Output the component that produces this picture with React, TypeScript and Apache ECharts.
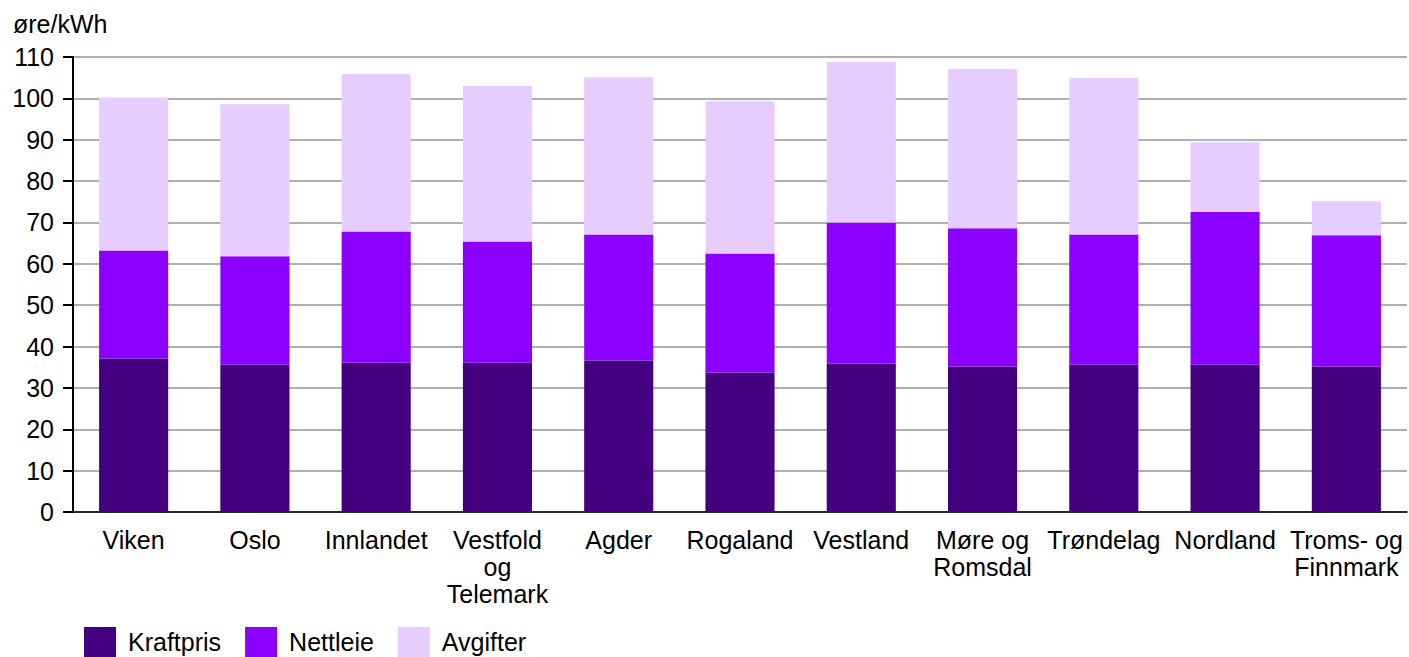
import React, { useEffect, useRef } from "react";
import * as echarts from "echarts";

const categories = [
  "Viken",
  "Oslo",
  "Innlandet",
  "Vestfold\nog\nTelemark",
  "Agder",
  "Rogaland",
  "Vestland",
  "Møre og\nRomsdal",
  "Trøndelag",
  "Nordland",
  "Troms- og\nFinnmark",
];
const kraftpris = [37.1, 35.6, 36.1, 36.1, 36.6, 33.7, 35.9, 35.2, 35.6, 35.6, 35.2];
const nettleie = [26.1, 26.2, 31.7, 29.3, 30.5, 28.8, 34.1, 33.4, 31.5, 36.9, 31.7];
const avgifter = [37.0, 36.8, 38.1, 37.6, 38.0, 36.8, 38.8, 38.5, 37.8, 16.9, 8.2];
const seriesNames = ["Kraftpris", "Nettleie", "Avgifter"];
const colors = ["#45007f", "#8b00ff", "#e6ccff"];
const unitLabel = "øre/kWh";

const FONT = "Arial, 'Liberation Sans', Helvetica, sans-serif";

export default function App() {
  const ref = useRef<HTMLDivElement>(null);
  useEffect(() => {
    if (!ref.current) return;
    const chart = echarts.init(ref.current, null, { renderer: "svg" });
    const data = [kraftpris, nettleie, avgifter];
    chart.setOption({
      animation: false,
      textStyle: { fontFamily: FONT },
      title: {
        text: unitLabel,
        left: 13,
        top: 11,
        padding: 0,
        textStyle: { fontSize: 25, fontWeight: "normal", color: "#000", fontFamily: FONT },
      },
      grid: { left: 73, right: 2, top: 57, bottom: 145, containLabel: false },
      legend: {
        left: 84,
        bottom: 0,
        padding: 0,
        itemWidth: 32,
        itemHeight: 30,
        itemGap: 24,
        icon: "rect",
        textStyle: { fontSize: 25, color: "#000", fontFamily: FONT, padding: [0, 0, 0, 7] },
        data: seriesNames,
      },
      xAxis: {
        type: "category",
        data: categories,
        axisLine: { lineStyle: { color: "#000", width: 1.5 } },
        axisTick: { show: false },
        axisLabel: {
          interval: 0,
          fontSize: 25,
          lineHeight: 27,
          color: "#000",
          margin: 14,
          fontFamily: FONT,
        },
      },
      yAxis: {
        type: "value",
        min: 0,
        max: 110,
        interval: 10,
        axisLine: { show: true, lineStyle: { color: "#000", width: 2 } },
        axisTick: { show: true, length: 10, lineStyle: { color: "#000", width: 2 } },
        axisLabel: { fontSize: 25, color: "#000", margin: 19, fontFamily: FONT },
        splitLine: { lineStyle: { color: "#959595", width: 1.5 } },
      },
      series: seriesNames.map((name, i) => ({
        name,
        type: "bar",
        stack: "total",
        data: data[i],
        barWidth: "57%",
        itemStyle: { color: colors[i] },
      })),
    });
    return () => chart.dispose();
  }, []);
  return (
    <div
      ref={ref}
      style={{ position: "absolute", left: 0, top: 0, width: 1409, height: 657 }}
    />
  );
}
